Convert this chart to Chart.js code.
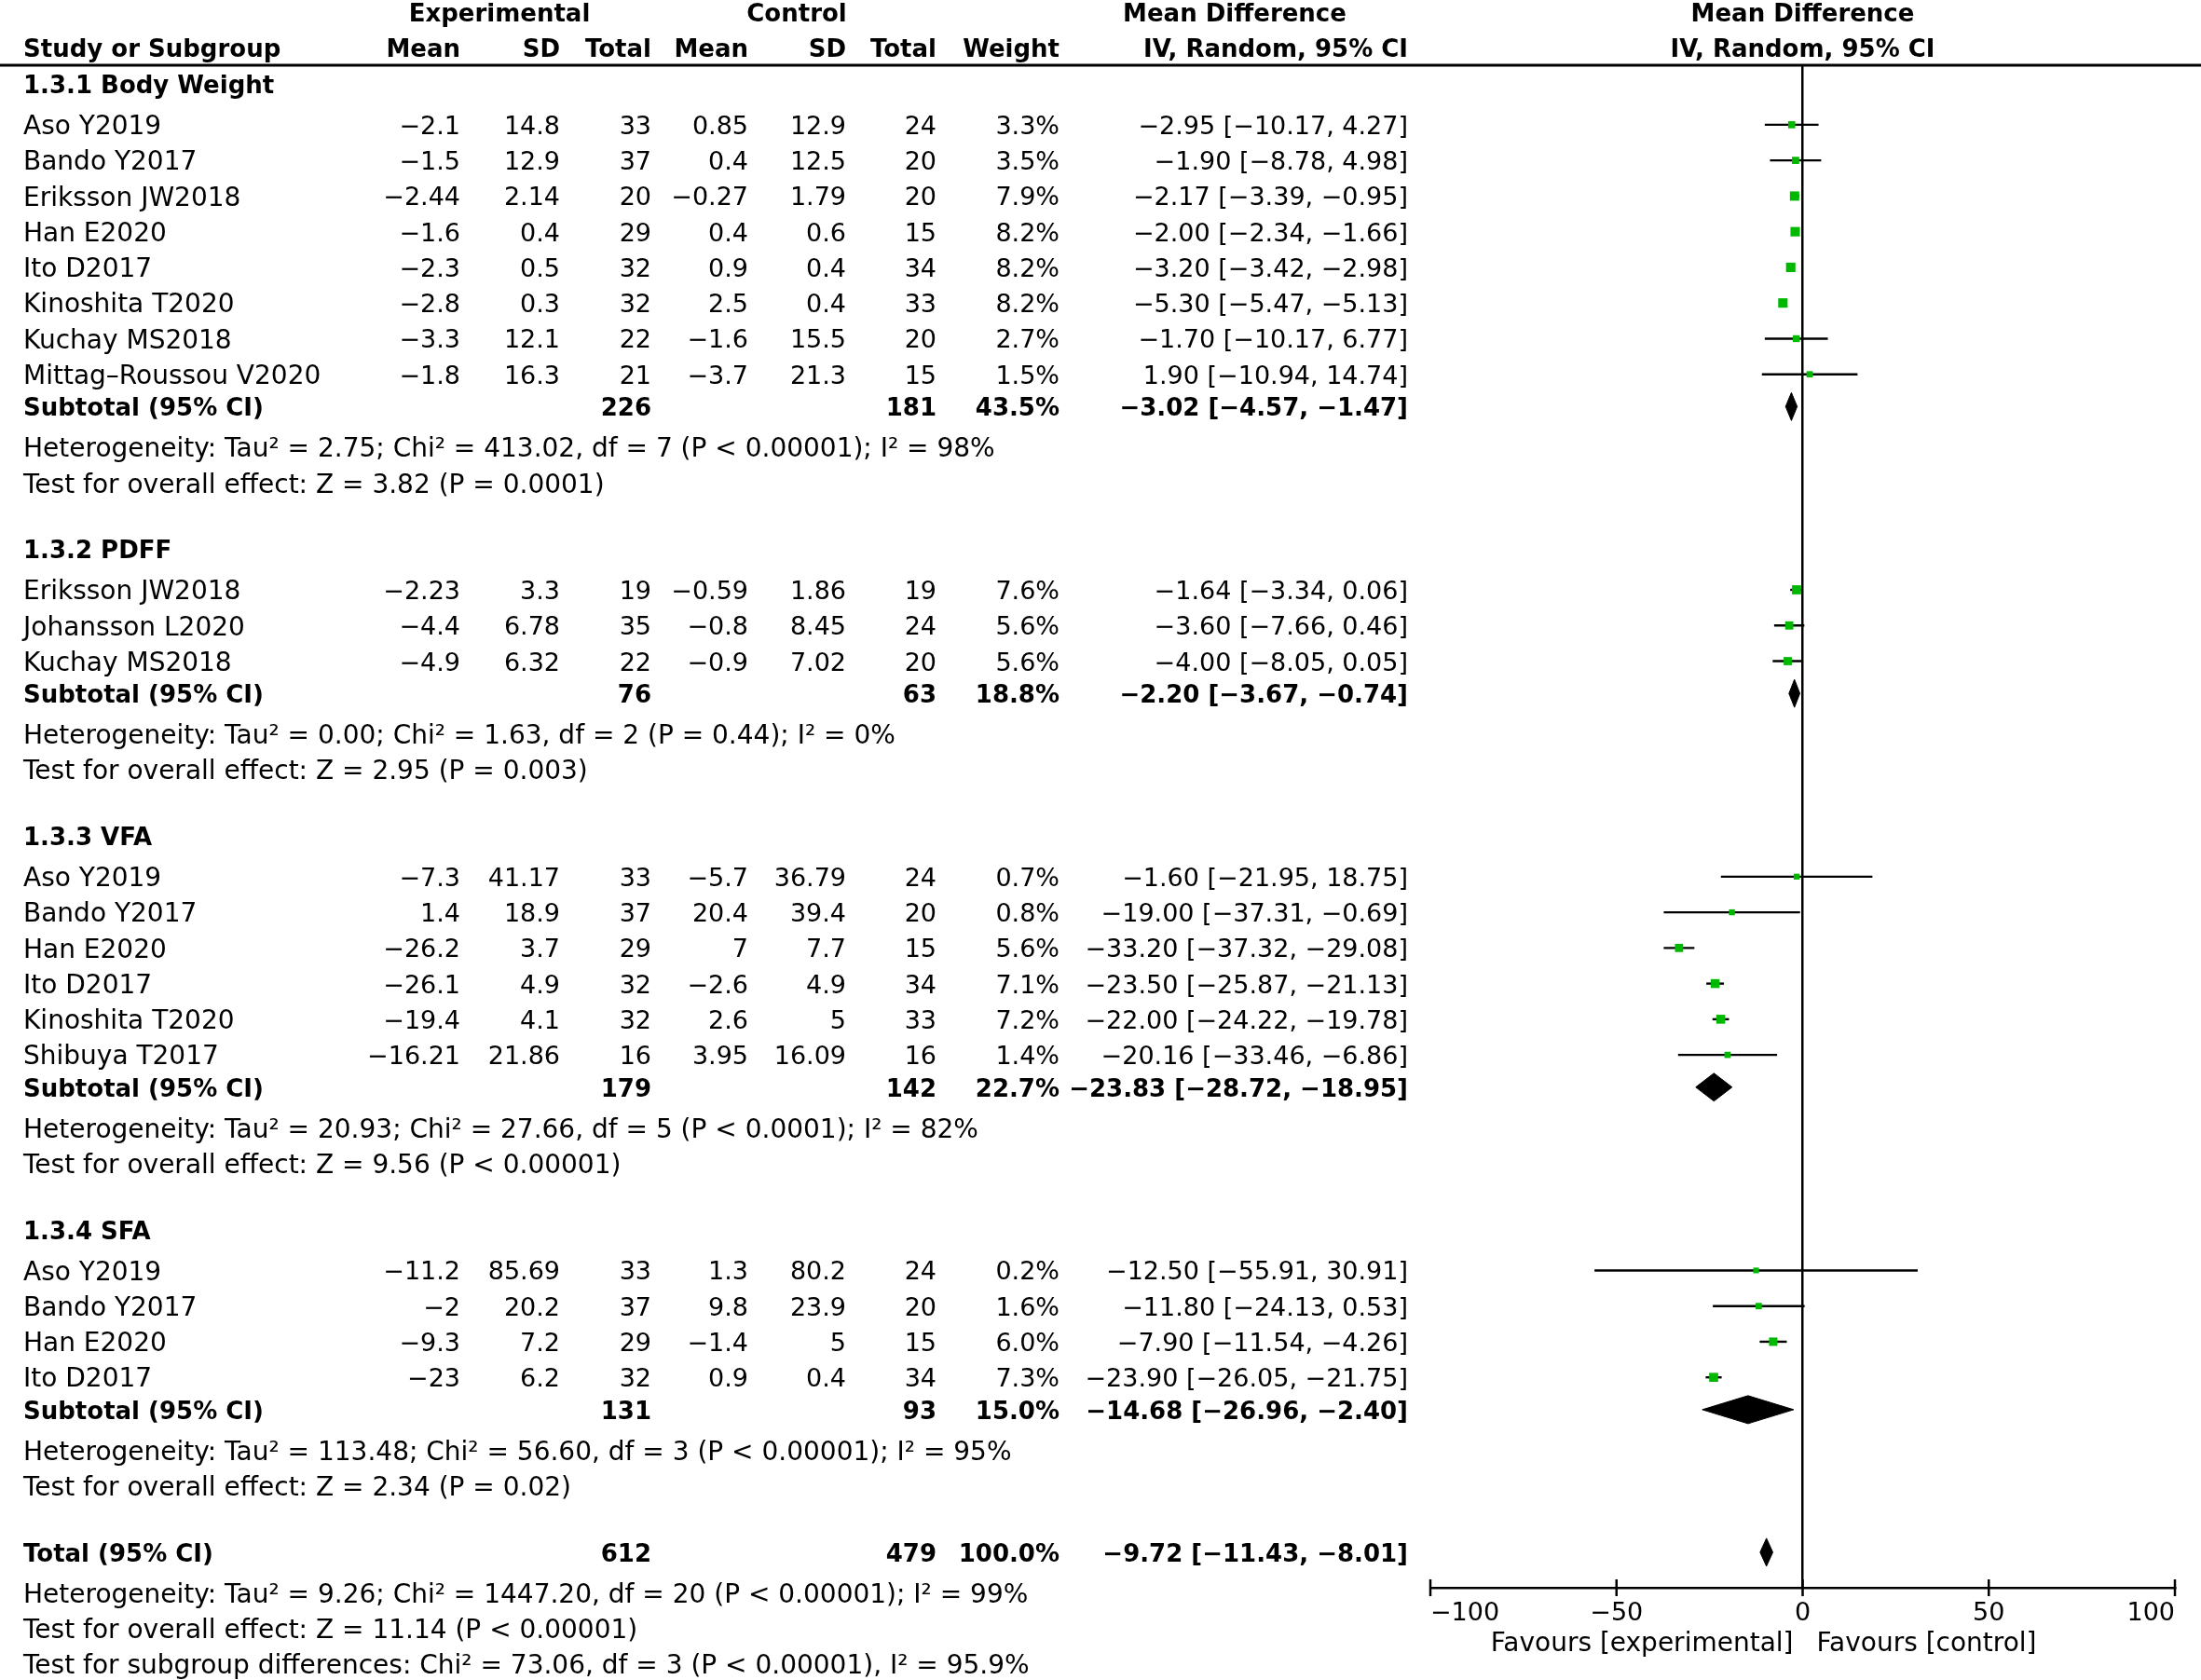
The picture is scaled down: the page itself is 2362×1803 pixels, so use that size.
<!DOCTYPE html>
<html lang="en">
<head>
<meta charset="UTF-8">
<title>Forest plot</title>
<style>
  html, body { margin: 0; padding: 0; background: #fff; overflow: hidden; }
  canvas { display: block; }
</style>
<script src="https://cdn.jsdelivr.net/npm/chart.js"></script>
</head>
<body>
<canvas id="forest" width="2362" height="1803"></canvas>
<script>
// ---- data ----
const groupNames = ['1.3.1 Body Weight', '1.3.2 PDFF', '1.3.3 VFA', '1.3.4 SFA'];
const studyGroup = [0, 0, 0, 0, 0, 0, 0, 0, 1, 1, 1, 2, 2, 2, 2, 2, 2, 3, 3, 3, 3];
const studyNames = ['Aso Y2019', 'Bando Y2017', 'Eriksson JW2018', 'Han E2020', 'Ito D2017', 'Kinoshita T2020', 'Kuchay MS2018', 'Mittag\u2013Roussou V2020',
  'Eriksson JW2018', 'Johansson L2020', 'Kuchay MS2018',
  'Aso Y2019', 'Bando Y2017', 'Han E2020', 'Ito D2017', 'Kinoshita T2020', 'Shibuya T2017',
  'Aso Y2019', 'Bando Y2017', 'Han E2020', 'Ito D2017'];
const expMean = [-2.1, -1.5, -2.44, -1.6, -2.3, -2.8, -3.3, -1.8, -2.23, -4.4, -4.9, -7.3, 1.4, -26.2, -26.1, -19.4, -16.21, -11.2, -2, -9.3, -23];
const expSD = [14.8, 12.9, 2.14, 0.4, 0.5, 0.3, 12.1, 16.3, 3.3, 6.78, 6.32, 41.17, 18.9, 3.7, 4.9, 4.1, 21.86, 85.69, 20.2, 7.2, 6.2];
const expN = [33, 37, 20, 29, 32, 32, 22, 21, 19, 35, 22, 33, 37, 29, 32, 32, 16, 33, 37, 29, 32];
const ctlMean = [0.85, 0.4, -0.27, 0.4, 0.9, 2.5, -1.6, -3.7, -0.59, -0.8, -0.9, -5.7, 20.4, 7, -2.6, 2.6, 3.95, 1.3, 9.8, -1.4, 0.9];
const ctlSD = [12.9, 12.5, 1.79, 0.6, 0.4, 0.4, 15.5, 21.3, 1.86, 8.45, 7.02, 36.79, 39.4, 7.7, 4.9, 5, 16.09, 80.2, 23.9, 5, 0.4];
const ctlN = [24, 20, 20, 15, 34, 33, 20, 15, 19, 24, 20, 24, 20, 15, 34, 33, 16, 24, 20, 15, 34];
const weights = [3.3, 3.5, 7.9, 8.2, 8.2, 8.2, 2.7, 1.5, 7.6, 5.6, 5.6, 0.7, 0.8, 5.6, 7.1, 7.2, 1.4, 0.2, 1.6, 6.0, 7.3];
const meanDiff = [-2.95, -1.90, -2.17, -2.00, -3.20, -5.30, -1.70, 1.90, -1.64, -3.60, -4.00, -1.60, -19.00, -33.20, -23.50, -22.00, -20.16, -12.50, -11.80, -7.90, -23.90];
const ciLow = [-10.17, -8.78, -3.39, -2.34, -3.42, -5.47, -10.17, -10.94, -3.34, -7.66, -8.05, -21.95, -37.31, -37.32, -25.87, -24.22, -33.46, -55.91, -24.13, -11.54, -26.05];
const ciHigh = [4.27, 4.98, -0.95, -1.66, -2.98, -5.13, 6.77, 14.74, 0.06, 0.46, 0.05, 18.75, -0.69, -29.08, -21.13, -19.78, -6.86, 30.91, 0.53, -4.26, -21.75];

const subExpN = [226, 76, 179, 131];
const subCtlN = [181, 63, 142, 93];
const subWeight = [43.5, 18.8, 22.7, 15.0];
const subMD = [-3.02, -2.20, -23.83, -14.68];
const subLow = [-4.57, -3.67, -28.72, -26.96];
const subHigh = [-1.47, -0.74, -18.95, -2.40];
const hetNotes = [
  'Heterogeneity: Tau\u00b2 = 2.75; Chi\u00b2 = 413.02, df = 7 (P < 0.00001); I\u00b2 = 98%',
  'Heterogeneity: Tau\u00b2 = 0.00; Chi\u00b2 = 1.63, df = 2 (P = 0.44); I\u00b2 = 0%',
  'Heterogeneity: Tau\u00b2 = 20.93; Chi\u00b2 = 27.66, df = 5 (P < 0.0001); I\u00b2 = 82%',
  'Heterogeneity: Tau\u00b2 = 113.48; Chi\u00b2 = 56.60, df = 3 (P < 0.00001); I\u00b2 = 95%'
];
const effectNotes = [
  'Test for overall effect: Z = 3.82 (P = 0.0001)',
  'Test for overall effect: Z = 2.95 (P = 0.003)',
  'Test for overall effect: Z = 9.56 (P < 0.00001)',
  'Test for overall effect: Z = 2.34 (P = 0.02)'
];

const totalExpN = 612, totalCtlN = 479, totalWeight = 100.0;
const totalMD = -9.72, totalLow = -11.43, totalHigh = -8.01;
const totalNotes = [
  'Heterogeneity: Tau\u00b2 = 9.26; Chi\u00b2 = 1447.20, df = 20 (P < 0.00001); I\u00b2 = 99%',
  'Test for overall effect: Z = 11.14 (P < 0.00001)',
  'Test for subgroup differences: Chi\u00b2 = 73.06, df = 3 (P < 0.00001), I\u00b2 = 95.9%'
];
const xTicks = [-100, -50, 0, 50, 100];

// ---- layout (row units, 1 row = one table line) ----
const ROW_PX = 38.26;
const RULE_Y = 1.83;      // rule under the header
const AXIS_Y = 44.54;     // x axis line
const FONT = '"DejaVu Sans", sans-serif';
const FS_TEXT = 28;       // names, notes
const FS_NUM = 27;        // numeric columns
const FS_BOLD = 26;
const TEXT_DY = 3;

const rows = [];
const studyY = [];
let cur = 2.36;
groupNames.forEach((g, gi) => {
  rows.push({ kind: 'group', y: cur, gi });
  cur += 1.14;
  let first = true;
  studyGroup.forEach((sg, si) => {
    if (sg !== gi) return;
    if (!first) cur += 1;
    first = false;
    studyY[si] = cur;
    rows.push({ kind: 'study', y: cur, si });
  });
  cur += 0.906; rows.push({ kind: 'sub', y: cur, gi });
  cur += 1.14; rows.push({ kind: 'note', y: cur, text: hetNotes[gi] });
  cur += 1; rows.push({ kind: 'note', y: cur, text: effectNotes[gi] });
  cur += 1.86;
});
const totalY = cur;
rows.push({ kind: 'total', y: cur });
cur += 1.14;
totalNotes.forEach(t => { rows.push({ kind: 'note', y: cur, text: t }); cur += 1; });

const minus = s => String(s).replace('-', '\u2212');
const fmtCI = (m, lo, hi) => minus(m.toFixed(2)) + ' [' + minus(lo.toFixed(2)) + ', ' + minus(hi.toFixed(2)) + ']';

// ---- datasets ----
const ciSets = studyNames.map((n, i) => ({
  data: [{ x: ciLow[i], y: studyY[i] }, { x: ciHigh[i], y: studyY[i] }],
  showLine: true, borderColor: '#000', borderWidth: 2.4, pointRadius: 0, order: 2
}));

const squareSet = {
  data: meanDiff.map((v, i) => ({ x: v, y: studyY[i] })),
  pointStyle: 'rect',
  pointRadius: weights.map(w => (6 + 0.5 * w) / Math.SQRT2),
  backgroundColor: '#00b800', borderWidth: 0, order: 1
};

const DIA = 15 / ROW_PX;
function diamond(m, lo, hi, yy) {
  return {
    data: [{ x: lo, y: yy }, { x: m, y: yy - DIA }, { x: hi, y: yy }, { x: m, y: yy + DIA }, { x: lo, y: yy }],
    showLine: true, fill: 'shape', backgroundColor: '#000', borderColor: '#000',
    borderWidth: 1, pointRadius: 0, order: 0
  };
}
const diamondSets = subMD.map((m, gi) => diamond(m, subLow[gi], subHigh[gi], rows.find(r => r.kind === 'sub' && r.gi === gi).y));
diamondSets.push(diamond(totalMD, totalLow, totalHigh, totalY));

// ---- table text, header rule, ticks ----
const COL = { name: 25, expMean: 494, expSD: 601, expN: 699, ctlMean: 803, ctlSD: 908, ctlN: 1005, weight: 1137, ci: 1511 };

const tablePlugin = {
  id: 'table',
  afterDraw(chart) {
    const { ctx, scales } = chart;
    const xs = scales.x, ys = scales.y;
    const py = v => ys.getPixelForValue(v) + TEXT_DY;
    const x0 = xs.getPixelForValue(0);
    ctx.save();
    ctx.fillStyle = '#000';
    ctx.textBaseline = 'middle';
    // style: 'b' bold, 'n' numeric, 't' plain text
    const txt = (s, x, yy, align, style) => {
      if (style === 'b') ctx.font = 'bold ' + FS_BOLD + 'px ' + FONT;
      else if (style === 'n') ctx.font = FS_NUM + 'px ' + FONT;
      else ctx.font = FS_TEXT + 'px ' + FONT;
      ctx.textAlign = align;
      ctx.fillText(s, x, py(yy));
    };

    // header
    const h1 = 0.35, h2 = 1.33;
    txt('Experimental', 536, h1, 'center', 'b');
    txt('Control', 855, h1, 'center', 'b');
    txt('Mean Difference', 1325, h1, 'center', 'b');
    txt('Mean Difference', x0, h1, 'center', 'b');
    txt('Study or Subgroup', COL.name, h2, 'left', 'b');
    txt('Mean', COL.expMean, h2, 'right', 'b');
    txt('SD', COL.expSD, h2, 'right', 'b');
    txt('Total', COL.expN, h2, 'right', 'b');
    txt('Mean', COL.ctlMean, h2, 'right', 'b');
    txt('SD', COL.ctlSD, h2, 'right', 'b');
    txt('Total', COL.ctlN, h2, 'right', 'b');
    txt('Weight', COL.weight, h2, 'right', 'b');
    txt('IV, Random, 95% CI', COL.ci, h2, 'right', 'b');
    txt('IV, Random, 95% CI', x0, h2, 'center', 'b');

    rows.forEach(r => {
      if (r.kind === 'group') {
        txt(groupNames[r.gi], COL.name, r.y, 'left', 'b');
      } else if (r.kind === 'study') {
        const i = r.si;
        txt(studyNames[i], COL.name, r.y, 'left', 't');
        txt(minus(expMean[i]), COL.expMean, r.y, 'right', 'n');
        txt(minus(expSD[i]), COL.expSD, r.y, 'right', 'n');
        txt(String(expN[i]), COL.expN, r.y, 'right', 'n');
        txt(minus(ctlMean[i]), COL.ctlMean, r.y, 'right', 'n');
        txt(minus(ctlSD[i]), COL.ctlSD, r.y, 'right', 'n');
        txt(String(ctlN[i]), COL.ctlN, r.y, 'right', 'n');
        txt(weights[i].toFixed(1) + '%', COL.weight, r.y, 'right', 'n');
        txt(fmtCI(meanDiff[i], ciLow[i], ciHigh[i]), COL.ci, r.y, 'right', 'n');
      } else if (r.kind === 'sub') {
        const g = r.gi;
        txt('Subtotal (95% CI)', COL.name, r.y, 'left', 'b');
        txt(String(subExpN[g]), COL.expN, r.y, 'right', 'b');
        txt(String(subCtlN[g]), COL.ctlN, r.y, 'right', 'b');
        txt(subWeight[g].toFixed(1) + '%', COL.weight, r.y, 'right', 'b');
        txt(fmtCI(subMD[g], subLow[g], subHigh[g]), COL.ci, r.y, 'right', 'b');
      } else if (r.kind === 'total') {
        txt('Total (95% CI)', COL.name, r.y, 'left', 'b');
        txt(String(totalExpN), COL.expN, r.y, 'right', 'b');
        txt(String(totalCtlN), COL.ctlN, r.y, 'right', 'b');
        txt(totalWeight.toFixed(1) + '%', COL.weight, r.y, 'right', 'b');
        txt(fmtCI(totalMD, totalLow, totalHigh), COL.ci, r.y, 'right', 'b');
      } else {
        txt(r.text, COL.name, r.y, 'left', 't');
      }
    });

    // rule under header
    const ry = ys.getPixelForValue(RULE_Y);
    ctx.strokeStyle = '#000';
    ctx.lineWidth = 3;
    ctx.beginPath();
    ctx.moveTo(0, ry);
    ctx.lineTo(chart.width, ry);
    ctx.stroke();

    // tick marks crossing the axis
    const ay = ys.getPixelForValue(AXIS_Y);
    ctx.lineWidth = 2.5;
    xTicks.forEach(v => {
      const px = xs.getPixelForValue(v);
      ctx.beginPath();
      ctx.moveTo(px, ay - 9);
      ctx.lineTo(px, ay + 9);
      ctx.stroke();
    });

    // favours labels
    ctx.font = FS_TEXT + 'px ' + FONT;
    ctx.textAlign = 'right';
    ctx.fillText('Favours [experimental]', x0 - 10, ay + 61);
    ctx.textAlign = 'left';
    ctx.fillText('Favours [control]', x0 + 15, ay + 61);
    ctx.restore();
  }
};

new Chart(document.getElementById('forest'), {
  type: 'scatter',
  data: { datasets: [squareSet, ...diamondSets, ...ciSets] },
  options: {
    responsive: false,
    animation: false,
    events: [],
    layout: { padding: { left: 1535, right: 28, top: Math.round(RULE_Y * ROW_PX), bottom: 0 } },
    plugins: { legend: { display: false }, tooltip: { enabled: false } },
    scales: {
      x: {
        type: 'linear', min: -100, max: 100,
        afterBuildTicks: s => { s.ticks = xTicks.map(v => ({ value: v })); },
        afterFit: s => { s.height = 1803 - Math.round(AXIS_Y * ROW_PX); },
        grid: {
          drawTicks: false,
          lineWidth: 2.5,
          color: c => (c.tick && c.tick.value === 0 ? '#000' : 'rgba(0,0,0,0)')
        },
        border: { display: true, color: '#000', width: 2.5 },
        ticks: {
          color: '#000', padding: 12, align: 'inner', maxRotation: 0, autoSkip: false,
          font: { family: FONT, size: FS_NUM },
          callback: v => minus(v)
        }
      },
      y: {
        type: 'linear', reverse: true, min: RULE_Y, max: AXIS_Y, display: false
      }
    }
  },
  plugins: [tablePlugin]
});
</script>
</body>
</html>
